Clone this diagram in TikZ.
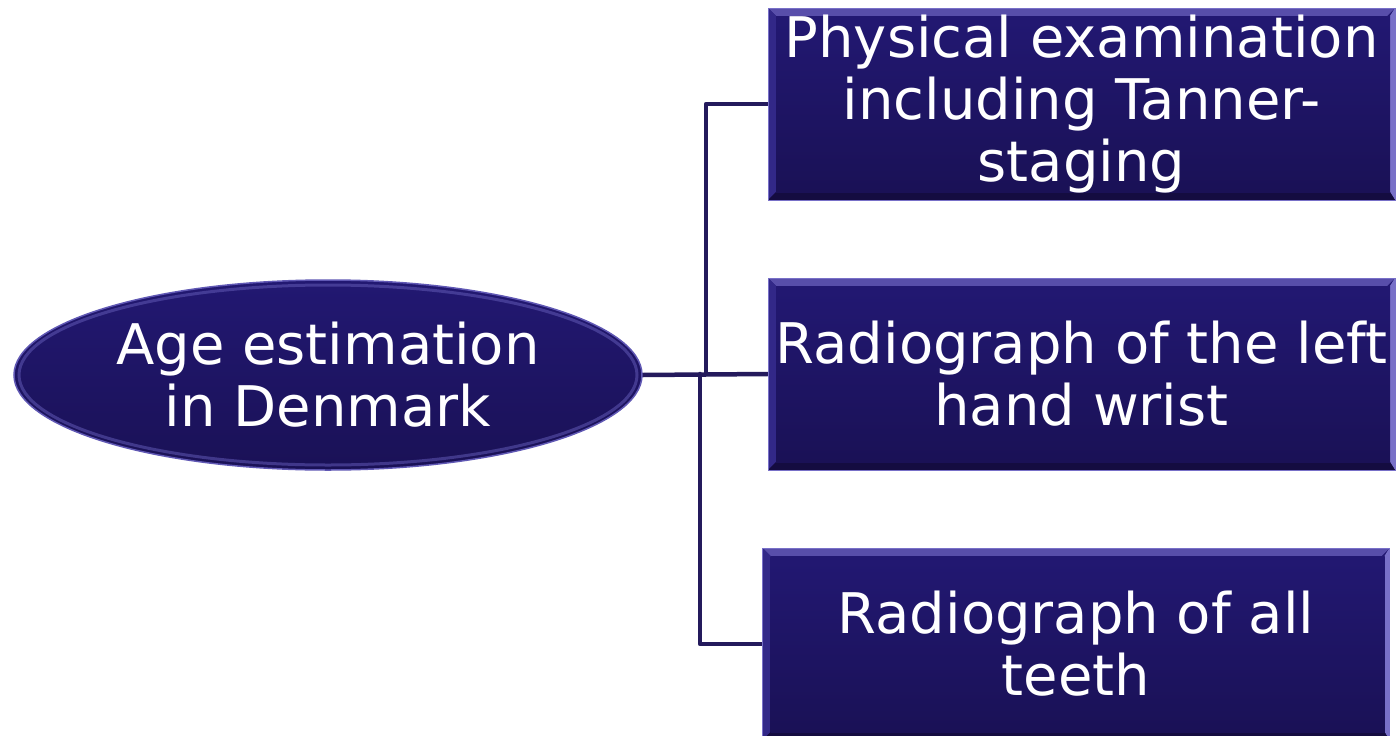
\documentclass[tikz,border=0pt]{standalone}
\usepackage{fontspec}
\setmainfont{DejaVu Sans}
\usetikzlibrary{shapes.geometric}
\pgfdeclarelayer{background}
\pgfsetlayers{background,main}
\definecolor{boxtop}{RGB}{34,24,114}
\definecolor{boxbot}{RGB}{26,17,86}
\definecolor{bevtop}{RGB}{88,78,170}
\definecolor{bevside}{RGB}{50,40,136}
\definecolor{bevright}{RGB}{120,112,200}
\definecolor{bevbot}{RGB}{20,12,64}
\definecolor{linec}{RGB}{36,26,92}
\definecolor{rimc}{RGB}{96,88,180}
\begin{document}
\begin{tikzpicture}[x=1pt,y=-1pt,
  txt/.style={font=\fontsize{56}{62}\selectfont, text=white, align=center},
  boxnode/.style={txt, rectangle, minimum width=627pt, minimum height=192pt, inner sep=0pt,
    top color=boxtop, bottom color=boxbot, draw=bevright, line width=0.8pt,
    path picture={
      \fill[bevtop] (path picture bounding box.north west) -- (path picture bounding box.north east)
        -- ([xshift=-8pt,yshift=-8pt]path picture bounding box.north east)
        -- ([xshift=8pt,yshift=-8pt]path picture bounding box.north west) -- cycle;
      \fill[bevside] (path picture bounding box.north west) -- ([xshift=8pt,yshift=-8pt]path picture bounding box.north west)
        -- ([xshift=8pt,yshift=8pt]path picture bounding box.south west) -- (path picture bounding box.south west) -- cycle;
      \fill[bevright] (path picture bounding box.north east) -- ([xshift=-5pt,yshift=-8pt]path picture bounding box.north east)
        -- ([xshift=-5pt,yshift=8pt]path picture bounding box.south east) -- (path picture bounding box.south east) -- cycle;
      \fill[bevbot] (path picture bounding box.south west) -- ([xshift=8pt,yshift=8pt]path picture bounding box.south west)
        -- ([xshift=-5pt,yshift=8pt]path picture bounding box.south east) -- (path picture bounding box.south east) -- cycle;
      \shade[top color=boxtop, bottom color=boxbot] ([xshift=8pt,yshift=-8pt]path picture bounding box.north west)
        rectangle ([xshift=-5pt,yshift=8pt]path picture bounding box.south east);
    }},
  ellnode/.style={txt, ellipse, minimum width=628pt, minimum height=190pt, inner sep=0pt,
    top color=boxtop, bottom color=boxbot, draw=rimc, line width=1.5pt,
    path picture={
      \draw[rimc, line width=3pt, opacity=0.55] (path picture bounding box.center) ellipse[x radius=309pt, y radius=90pt];
    }},
  conn/.style={draw=linec, line width=4.5pt, line cap=round, line join=round}
]
\useasboundingbox (0,0) rectangle (1400,736);

\node[ellnode] (ell) at (328,375) {Age estimation\\in Denmark};
\node[boxnode] (b1) at (1081.5,104) {Physical examination\\including Tanner-\\staging};
\node[boxnode] (b2) at (1081.5,374) {Radiograph of the left\\hand wrist};
\node[boxnode] (b3) at (1076,644) {Radiograph of all\\teeth};
\coordinate (j1) at (706,374);
\coordinate (j2) at (700,374);

\begin{pgfonlayer}{background}
\fill[white] (0,0) rectangle (1400,736);
\draw[conn] (ell.east) -- (b2.west);
\draw[conn] (b1.west) -| (j1);
\draw[conn] (b3.west) -| (j2);
\end{pgfonlayer}
\end{tikzpicture}
\end{document}
